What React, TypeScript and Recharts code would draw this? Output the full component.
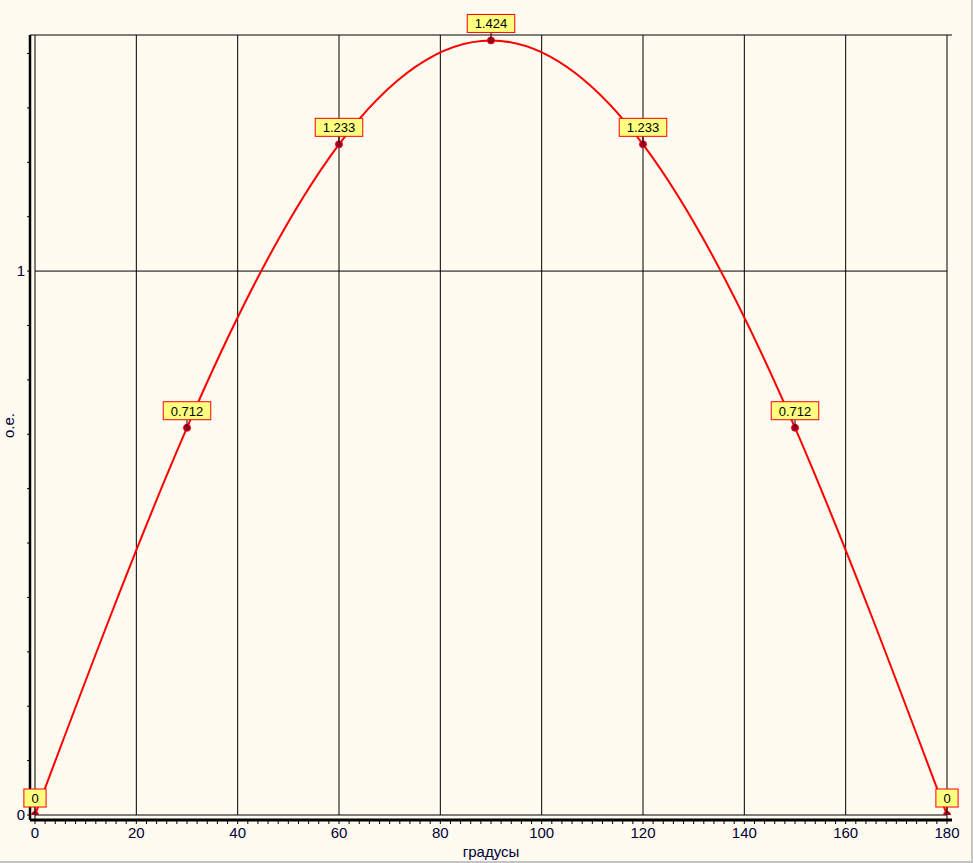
import React from 'react';
import { LineChart, Line, XAxis, YAxis, ReferenceLine, LabelList, Label } from 'recharts';

// ---- data ----
const degrees = [0, 30, 60, 90, 120, 150, 180];
const values = [0, 0.712, 1.233, 1.424, 1.233, 0.712, 0];
const xLabelTicks = [0, 20, 40, 60, 80, 100, 120, 140, 160, 180];
const xMinorTicks = Array.from({ length: 91 }, (_, i) => i * 2);
const yMinorTicks = [0, 0.1, 0.2, 0.3, 0.4, 0.5, 0.6, 0.7, 0.8, 0.9, 1, 1.1, 1.2, 1.3, 1.4];
const yLabelTicks = [0, 1];
const Y_MAX = 1.434;
const xTitle = 'градусы';
const yTitle = 'о.е.';

const data = degrees.map((d, i) => ({ deg: d, val: values[i] }));

const FONT = '"Liberation Sans", Arial, sans-serif';
const BG = '#FFFBF0';

const XTick = (props: any) => {
  const { x, y, payload } = props;
  if (!xLabelTicks.includes(payload.value)) return null;
  return (
    <text x={x} y={y + 12} textAnchor="middle" fontSize={15} fill="#000033" fontFamily={FONT}>
      {payload.value}
    </text>
  );
};

const YTick = (props: any) => {
  const { x, y, payload } = props;
  const v = payload.value;
  if (!yLabelTicks.some((t) => Math.abs(t - v) < 1e-9)) return null;
  return (
    <text x={x} y={y + 5} textAnchor="end" fontSize={15} fill="#000033" fontFamily={FONT}>
      {String(v)}
    </text>
  );
};

const textWidth = (s: string) =>
  s.split('').reduce((a, c) => a + (c === '.' ? 3.6 : 7.23), 0);

const PointLabel = (props: any) => {
  const { x, y, value } = props;
  const s = String(value);
  const w = textWidth(s) + 15;
  const h = 18;
  const bottom = y - 8;
  return (
    <g>
      <line x1={x} y1={bottom} x2={x} y2={y - 2} stroke="#000" strokeWidth={1} />
      <rect x={x - w / 2} y={bottom - h} width={w} height={h} fill="#FFFF80" stroke="#FF0000" strokeWidth={1} />
      <text x={x} y={bottom - 4} textAnchor="middle" fontSize={13} fill="#000" fontFamily={FONT}>
        {s}
      </text>
    </g>
  );
};

const XTitle = (props: any) => {
  const vb = props.viewBox || {};
  return (
    <text x={vb.x + vb.width / 2} y={vb.y + 37} textAnchor="middle" fontSize={15} fill="#000033" fontFamily={FONT}>
      {xTitle}
    </text>
  );
};

const YTitle = (props: any) => {
  const vb = props.viewBox || {};
  const cx = 14;
  const cy = vb.y + vb.height / 2 - 2;
  return (
    <text x={cx} y={cy} transform={`rotate(-90 ${cx} ${cy})`} textAnchor="middle" fontSize={15} fill="#000033" fontFamily={FONT}>
      {yTitle}
    </text>
  );
};

export default function App() {
  return (
    <div
      style={{
        position: 'absolute',
        left: 0,
        top: 0,
        width: 973,
        height: 863,
        background: BG,
        overflow: 'hidden',
      }}
    >
      <LineChart width={973} height={863} data={data} margin={{ top: 35, right: 21, left: 0, bottom: 0 }}>
        <XAxis
          dataKey="deg"
          type="number"
          domain={[0, 180]}
          ticks={xMinorTicks}
          interval={0}
          padding={{ left: 5, right: 5 }}
          height={43}
          axisLine={{ stroke: '#000', strokeWidth: 3 }}
          tickLine={{ stroke: '#000' }}
          tickSize={4}
          tick={<XTick />}
        >
          <Label content={<XTitle />} />
        </XAxis>
        <YAxis
          yAxisId="left"
          type="number"
          domain={[0, Y_MAX]}
          ticks={yMinorTicks}
          interval={0}
          padding={{ top: 0, bottom: 5 }}
          width={30}
          allowDataOverflow
          axisLine={{ stroke: '#000', strokeWidth: 2.5 }}
          tickLine={{ stroke: '#000' }}
          tickSize={3}
          tick={<YTick />}
        >
          <Label content={<YTitle />} />
        </YAxis>
        <YAxis
          yAxisId="right"
          orientation="right"
          type="number"
          domain={[0, Y_MAX]}
          width={0}
          padding={{ top: 0, bottom: 5 }}
          axisLine={{ stroke: '#000', strokeWidth: 1 }}
          tick={false}
          tickLine={false}
        />
        {xLabelTicks.map((t) => (
          <ReferenceLine
            key={'vx' + t}
            yAxisId="left"
            segment={[{ x: t, y: t === 0 || t === 180 ? -0.01 : 0 }, { x: t, y: Y_MAX }]}
            stroke="#000"
            strokeWidth={1}
            ifOverflow="visible"
          />
        ))}
        {yLabelTicks.map((t) => (
          <ReferenceLine
            key={'hy' + t}
            yAxisId="left"
            segment={[{ x: 0, y: t }, { x: 180, y: t }]}
            stroke="#000"
            strokeWidth={1}
            ifOverflow="visible"
          />
        ))}
        <ReferenceLine yAxisId="left" y={Y_MAX} stroke="#000" strokeWidth={1} ifOverflow="visible" />
        <Line
          yAxisId="left"
          type="natural"
          dataKey="val"
          stroke="#FF0000"
          strokeWidth={2}
          dot={{ r: 3.5, fill: '#8B0030', stroke: '#FF0000', strokeWidth: 1 }}
          isAnimationActive={false}
        >
          <LabelList dataKey="val" content={<PointLabel />} />
        </Line>
      </LineChart>
      <div
        style={{
          position: 'absolute',
          right: 0,
          top: 0,
          width: 2,
          height: 863,
          background: '#c4c4c4',
        }}
      />
      <div
        style={{
          position: 'absolute',
          left: 0,
          bottom: 0,
          width: 973,
          height: 2,
          background: '#c4c4c4',
        }}
      />
    </div>
  );
}
